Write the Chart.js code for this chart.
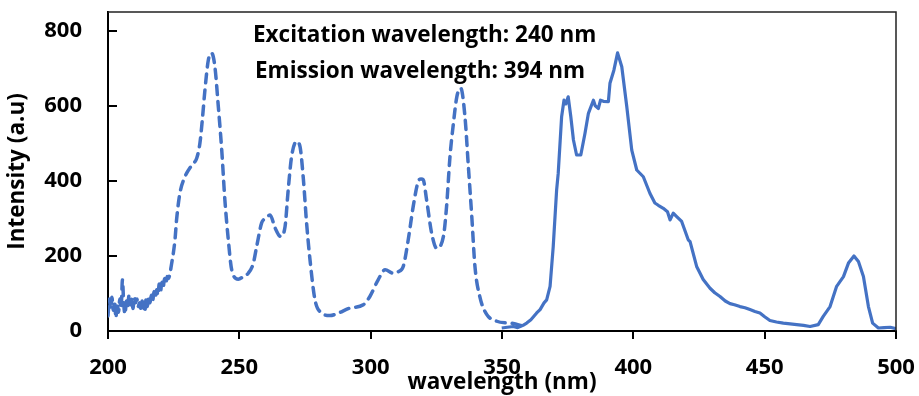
<!DOCTYPE html>
<html>
<head>
<meta charset="utf-8">
<script src="https://cdn.jsdelivr.net/npm/chart.js@4"></script>
<style>
  html, body { margin: 0; padding: 0; background: #fff; }
  #wrap { width: 919px; height: 396px; }
</style>
</head>
<body>
<div id="wrap"><canvas id="myChart"></canvas></div>
<script>
// excitation spectrum (monitored at 394 nm), dashed
const excitationX = [
  200, 200.5, 201, 201.5, 202, 202.5, 203, 203.5, 204, 204.5, 205, 205.5, 206, 206.5, 207, 207.5,
  208, 208.5, 209, 209.5, 210, 210.5, 211, 211.5, 212, 212.5, 213, 213.5, 214, 214.5, 215, 215.5,
  216, 216.5, 217, 217.5, 218, 218.5, 219, 219.5, 220, 220.5, 221, 221.5, 222, 222.5, 223, 223.5,
  224, 225.5, 226.1, 227.4, 229.3, 231.9, 233.8, 235, 235.9, 236.9, 238.2, 239.5, 240.7, 242,
  243.3, 244.5, 245.8, 247.1, 249.6, 251.5, 253.4, 255.3, 256.6, 258.5, 260, 261.7, 263.6, 265.7,
  267.4, 268.6, 269.9, 271.8, 273.1, 274.4, 275.6, 276.9, 278.8, 281.4, 284.5, 287.1, 292.1, 297.2,
  299.7, 302.9, 305.5, 308.6, 310.5, 312.4, 314.3, 316.2, 318.1, 319.2, 320, 321.3, 323.2, 325.1,
  327.7, 328.9, 330.2, 331.5, 332.8, 334.3, 335.9, 337.2, 338.5, 339.7, 341.6, 344.1, 348, 352.4,
  354.3, 357, 359.4
]
const excitationY = [
  40, 85, 60, 90, 55, 80, 35, 75, 50, 85, 60, 136, 70, 45, 80, 65,
  95, 70, 85, 60, 90, 75, 85, 65, 75, 60, 80, 70, 50, 85, 65, 90,
  75, 95, 80, 105, 90, 110, 95, 125, 105, 130, 115, 140, 125, 145, 140, 150,
  170, 243, 296, 368, 411, 442, 461, 501, 562, 642, 722, 740, 704, 598,
  482, 349, 243, 163, 138, 145, 154, 180, 225, 288, 300, 309, 275, 252,
  278, 376, 465, 505, 491, 403, 288, 190, 83, 48, 41, 46, 61, 70,
  92, 137, 163, 154, 158, 172, 243, 332, 398, 405, 403, 349, 261, 221,
  252, 332, 465, 553, 624, 647, 571, 438, 305, 172, 90, 45, 26, 21,
  20, 15, 10
]

// emission spectrum (excited at 240 nm), solid
const emissionX = [
  349.9, 352, 354.3, 356, 358, 359.4, 361, 363.2, 364.5, 366, 367, 368.3, 369.5, 370.8, 371.4,
  372.7, 373.6, 374.3, 375.2, 376.2, 377.2, 378.4, 380, 381.6, 382.9, 384.8, 385.5, 386.7, 387.5, 388.6, 390.5,
  391.1, 392.6, 394, 395.6, 397.5, 399.4, 401.3, 403.8, 406.3, 408.2, 409.5, 411.4, 413, 414, 415.2, 416.5,
  418.4, 420.9, 421.6, 424.1, 426.6, 429.2, 431, 433, 435, 436.8, 438.5, 440.6, 442.5, 444.4, 446.3, 448.2,
  450, 452, 454.5, 457.1, 459.7, 462.2, 464.8, 467.3, 470.4, 472.3, 474.9, 477.4, 480, 481.9, 484, 485.7,
  487.6, 489.5, 491.1, 493.3, 495.5, 497.8, 500
]
const emissionY = [
  8, 10, 12, 9, 15, 21, 30, 48, 57, 75, 83, 119, 225, 376, 420,
  571, 615, 605, 624, 571, 509, 469, 469, 527, 580, 615, 600, 593, 615, 612, 611,
  660, 695, 741, 704, 598, 482, 429, 411, 367, 341, 335, 327, 318, 296, 314, 305,
  292, 243, 238, 172, 137, 114, 102, 92, 80, 73, 70, 65, 62, 57, 52, 48,
  38, 28, 24, 21, 19, 17, 15, 12, 17, 39, 65, 119, 145, 181, 200, 185,
  145, 65, 21, 8, 9, 10, 6
]

const xTicks = [200, 250, 300, 350, 400, 450, 500]
const yTicks = [0, 200, 400, 600, 800]
const notes = ["Excitation wavelength: 240 nm", "Emission wavelength: 394 nm"]

const blue = "#4472C4"
const fontStack = "'Open Sans', Lato, sans-serif"
const toPoints = (xs, ys) => xs.map((x, i) => ({ x: x, y: ys[i] }))

Chart.defaults.font.family = fontStack
Chart.defaults.font.weight = "bold"
Chart.defaults.font.size = 22
Chart.defaults.color = "#000"

// plot frame, inward y tick marks and the two wavelength notes
const framePlugin = {
  id: "frame",
  afterDraw(chart) {
    const ctx = chart.ctx
    const a = chart.chartArea
    const y = chart.scales.y
    ctx.save()
    ctx.strokeStyle = "#222"
    ctx.lineWidth = 1.5
    ctx.beginPath()
    ctx.moveTo(a.left, a.top)
    ctx.lineTo(a.right, a.top)
    ctx.lineTo(a.right, a.bottom)
    ctx.stroke()
    ctx.strokeStyle = "#000"
    ctx.lineWidth = 2
    yTicks.forEach(v => {
      const py = Math.round(y.getPixelForValue(v))
      ctx.beginPath()
      ctx.moveTo(a.left, py)
      ctx.lineTo(a.left + 9, py)
      ctx.stroke()
    })
    ctx.fillStyle = "#000"
    ctx.font = "bold 22.5px " + fontStack
    ctx.textBaseline = "alphabetic"
    ctx.fillText(notes[0], a.left + 145, a.top + 30)
    ctx.fillText(notes[1], a.left + 147, a.top + 66)
    ctx.restore()
  },
}

const config = {
  type: "line",
  data: {
    datasets: [
      {
        label: "Excitation",
        data: toPoints(excitationX, excitationY),
        borderColor: blue,
        borderWidth: 3.5,
        borderDash: [9, 7],
        borderCapStyle: "round",
        cubicInterpolationMode: "monotone",
        pointRadius: 0,
        fill: false,
      },
      {
        label: "Emission",
        data: toPoints(emissionX, emissionY),
        borderColor: blue,
        borderWidth: 3.2,
        borderJoinStyle: "round",
        tension: 0,
        pointRadius: 0,
        fill: false,
      },
    ],
  },
  options: {
    responsive: true,
    maintainAspectRatio: false,
    animation: false,
    layout: { padding: { top: 12, right: 23, left: 0, bottom: 0 } },
    plugins: { legend: { display: false }, tooltip: { enabled: false } },
    scales: {
      x: {
        type: "linear",
        min: 200,
        max: 500,
        afterBuildTicks: s => { s.ticks = xTicks.map(v => ({ value: v })) },
        afterFit: s => { s.height = 65; s.paddingLeft = 0; s.paddingRight = 0 },
        ticks: { padding: 16, maxRotation: 0 },
        grid: { drawOnChartArea: false, drawTicks: true, tickLength: 8, color: "#000", lineWidth: 2 },
        border: { color: "#000", width: 2 },
        title: { display: true, text: "wavelength (nm)", font: { size: 22.5 }, padding: { top: 0, bottom: 0 } },
      },
      y: {
        min: 0,
        max: 850,
        afterBuildTicks: s => { s.ticks = yTicks.map(v => ({ value: v })) },
        afterFit: s => { s.width = 108; s.paddingTop = 0; s.paddingBottom = 0 },
        ticks: { padding: 26 },
        grid: { drawOnChartArea: false, drawTicks: false },
        border: { color: "#000", width: 2 },
        title: { display: true, text: "Intensity (a.u)", font: { size: 22.5 }, padding: { top: 4, bottom: 0 } },
      },
    },
  },
  plugins: [framePlugin],
}

const myChart = new Chart(document.getElementById("myChart"), config)
</script>
</body>
</html>
